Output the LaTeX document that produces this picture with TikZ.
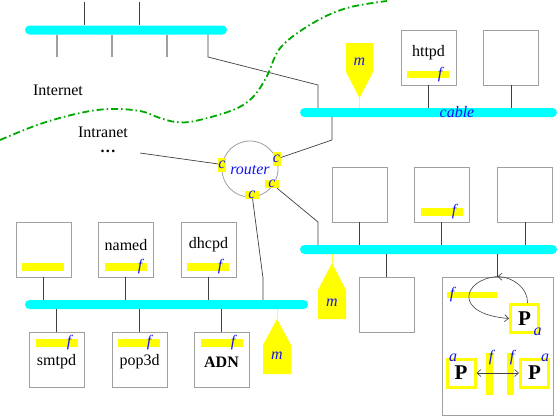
\documentclass[tikz,border=0pt]{standalone}
\usepackage{fontspec}
\setmainfont{Liberation Serif}
\usetikzlibrary{arrows.meta}
\definecolor{cabcol}{HTML}{00FFFF}
\definecolor{ylw}{HTML}{FFFF00}
\definecolor{lblue}{HTML}{1414F0}
\definecolor{grn}{HTML}{00A800}
\definecolor{bgray}{HTML}{A0A0A0}
\tikzset{
  txt/.style={font=\fontsize{16}{19}\selectfont, inner sep=0},
  lbl/.style={txt, text=lblue, font=\fontsize{16}{19}\selectfont\itshape},
  cablebar/.style={fill=cabcol, rounded corners=4.5pt, minimum height=9pt, inner sep=0},
  hostbox/.style={draw=bgray, line width=0.9pt, fill=white, minimum width=55pt, minimum height=55pt, inner sep=0},
  ybar/.style={fill=ylw, minimum width=42pt, minimum height=7.5pt, inner sep=0},
  cport/.style={fill=ylw, inner sep=0, text=lblue, font=\fontsize{16}{19}\selectfont\itshape},
  conn/.style={draw=black!75, line width=0.7pt},
  gtick/.style={draw=bgray, line width=1.2pt},
  pbox/.style={draw=ylw, line width=3pt, fill=white, minimum size=28pt, inner sep=0, font=\fontsize{21}{24}\selectfont\bfseries},
  marr/.style={draw=black!75, line width=0.6pt, -{Straight Barb[length=4pt,width=7pt]}},
  mline/.style={draw=ylw!80!white, line width=0.8pt}
}
\begin{document}
\begin{tikzpicture}[x=1pt,y=-1pt]
\useasboundingbox (0,0) rectangle (560,416);
\fill[white] (0,0) rectangle (560,416);

% ---------- coordinates for free ends ----------
\coordinate (tA1) at (84,2);
\coordinate (tA2) at (139,2);
\coordinate (gA1) at (57,57);
\coordinate (gA2) at (112,57);
\coordinate (gA3) at (167,57);
\coordinate (gw1) at (208,57);
\coordinate (gw2) at (318,85);
\coordinate (k1) at (332,140);
\coordinate (k2) at (318,222);
\coordinate (k3) at (263,278);
\coordinate (dotsE) at (140,153);

% ---------- cables (as nodes) ----------
\node[cablebar, minimum width=202pt] (cA) at (126,30) {};
\node[cablebar, minimum width=257pt] (cB) at (428.5,112.5) {};
\node[cablebar, minimum width=257pt] (cC) at (428.5,249.5) {};
\node[cablebar, minimum width=283pt] (cD) at (166.5,304.5) {};

% ---------- host boxes ----------
\node[hostbox] (hHttp) at (428.5,57.5) {};
\node[hostbox] (hTR) at (511,57.5) {};
\node[hostbox] (hM1) at (359.5,194.5) {};
\node[hostbox] (hM2) at (441.5,194.5) {};
\node[hostbox] (hM3) at (525,194.5) {};
\node[hostbox] (hM4) at (386.5,304.5) {};
\node[hostbox, minimum width=111pt, minimum height=138pt] (big) at (497.5,346) {};
\node[hostbox] (hB1) at (43.5,249.5) {};
\node[hostbox] (hNamed) at (125.5,249.5) {};
\node[hostbox] (hDhcp) at (208.5,249.5) {};
\node[hostbox] (hSmtp) at (56.5,359.5) {};
\node[hostbox] (hPop) at (139.5,359.5) {};
\node[hostbox] (hAdn) at (221.5,359.5) {};

% ---------- connectors ----------
\draw[conn] (tA1) -- (tA1 |- cA.north);
\draw[conn] (tA2) -- (tA2 |- cA.north);
\draw[gtick] (gA1) -- (gA1 |- cA.south);
\draw[gtick] (gA2) -- (gA2 |- cA.south);
\draw[gtick] (gA3) -- (gA3 |- cA.south);
\draw[conn] (gw1 |- cA.south) -- (gw1) -- (gw2) -- (gw2 |- cB.north);

\draw[conn] (hHttp.south) -- (hHttp.south |- cB.north);
\draw[conn] (hTR.south) -- (hTR.south |- cB.north);
\draw[conn] (hM1.south) -- (hM1.south |- cC.north);
\draw[conn] (hM2.south) -- (hM2.south |- cC.north);
\draw[conn] (hM3.south) -- (hM3.south |- cC.north);
\draw[conn] (hM4.north) -- (hM4.north |- cC.south);
\draw[conn] (big.north) -- (big.north |- cC.south);
\draw[conn] (hB1.south) -- (hB1.south |- cD.north);
\draw[conn] (hNamed.south) -- (hNamed.south |- cD.north);
\draw[conn] (hDhcp.south) -- (hDhcp.south |- cD.north);
\draw[conn] (hSmtp.north) -- (hSmtp.north |- cD.south);
\draw[conn] (hPop.north) -- (hPop.north |- cD.south);
\draw[conn] (hAdn.north) -- (hAdn.north |- cD.south);

\node[lbl] (cabLbl) at (457,112) {cable};

% ---------- box contents ----------
\node[txt] (tHttp) at (428.5,53) {httpd};
\node[ybar] (bHttp) at (428,74.5) {};
\node[lbl] (fHttp) at ([xshift=-9pt]bHttp.east) {f};

\node[ybar] (bM2) at (442,212) {};
\node[lbl] (fM2) at ([xshift=-9pt]bM2.east) {f};

\node[ybar] (bB1) at (43,267) {};
\node[txt] (tNamed) at (126,245) {named};
\node[ybar] (bNamed) at (126,267) {};
\node[lbl] (fNamed) at ([xshift=-7pt]bNamed.east) {f};
\node[txt] (tDhcp) at (208.5,245) {dhcpd};
\node[ybar] (bDhcp) at (208,267) {};
\node[lbl] (fDhcp) at ([xshift=-9pt]bDhcp.east) {f};

\node[ybar] (bSmtp) at (57,343) {};
\node[lbl] (fSmtp) at ([xshift=-9pt]bSmtp.east) {f};
\node[txt] (tSmtp) at (56.5,362) {smtpd};
\node[ybar] (bPop) at (139,343) {};
\node[lbl] (fPop) at ([xshift=-11pt]bPop.east) {f};
\node[txt] (tPop) at (139.5,362) {pop3d};
\node[ybar] (bAdn) at (222,343) {};
\node[lbl] (fAdn) at ([xshift=-10pt]bAdn.east) {f};
\node[txt, font=\fontsize{16}{19}\selectfont\bfseries] (tAdn) at (221.5,362) {ADN};

% ---------- texts ----------
\node[txt] (tInternet) at (58,90) {Internet};
\node[txt] (tIntranet) at (103,132) {Intranet};
\node[txt] (tDots) at (108,151) {\textbf{.\kern1.5pt.\kern1.5pt.}};

% ---------- dash-dot boundary ----------
\draw[grn, line width=1.8pt, dash pattern=on 7pt off 3pt on 1.5pt off 3pt]
  plot[smooth, tension=0.6] coordinates {(0,140) (40,124) (80,113) (110,109) (140,111) (160,118) (176,122) (195,121) (233,110) (253,97) (267,76) (281,47) (313,23) (347,8) (387,1)};

% ---------- router ----------
\node[draw=bgray, circle, line width=0.8pt, minimum size=56pt, inner sep=0] (rt) at (250,169) {};
\node[lbl] (rtLbl) at (250,170) {router};
\node[cport, minimum width=8pt, minimum height=14pt] (cL) at (222,164.5) {c};
\node[cport, minimum width=8pt, minimum height=14pt] (cUR) at (276.5,159) {c};
\node[cport, minimum width=14pt, minimum height=8pt] (cLR) at (272,184) {c};
\node[cport, minimum width=14pt, minimum height=8pt] (cBt) at (252,194.5) {c};

\draw[conn] (dotsE) -- (cL);
\draw[conn] (cUR) -- (k1) -- (k1 |- cB.south);
\draw[conn] (cLR) -- (k2) -- (k2 |- cC.north);
\draw[conn] (cBt) -- (k3) -- (k3 |- cD.north);

% ---------- m markers ----------
\fill[ylw] (346,43) -- (373,43) -- (373,72) -- (359.5,98) -- (346,72) -- cycle;
\draw[mline] (359.5,98) -- (359.5,108);
\node[lbl] (mTop) at (359.5,62) {m};

\fill[ylw] (332,263) -- (346,290) -- (346,319) -- (318,319) -- (318,290) -- cycle;
\draw[mline] (332,254) -- (332,263);
\node[lbl] (mMid) at (332,303) {m};

\fill[ylw] (277,319) -- (291,345) -- (291,374) -- (263,374) -- (263,345) -- cycle;
\draw[mline] (277,309) -- (277,319);
\node[lbl] (mBot) at (277,356) {m};

% ---------- big box contents ----------
\node[fill=ylw, minimum width=50pt, minimum height=6pt, inner sep=0] (bBig) at (472,295) {};
\node[lbl] (fBig) at (452,295) {f};
\node[pbox] (p1) at (524.5,318.5) {P};
\node[lbl] (a1) at (537.5,332) {a};
\draw[marr] ([xshift=3pt]p1.north) .. controls (528,288) and (513,277) .. (big.north);
\draw[marr] (big.north) .. controls (463,279) and (452,314) .. (p1.west);

\node[fill=ylw, minimum width=7pt, minimum height=42pt, inner sep=0] (vb1) at (489.5,374) {};
\node[fill=ylw, minimum width=7pt, minimum height=42pt, inner sep=0] (vb2) at (510.5,374) {};
\node[lbl] (fv1) at (491,358) {f};
\node[lbl] (fv2) at (512,358) {f};
\node[pbox] (pl) at (461,373) {P};
\node[pbox] (pr) at (534.5,373) {P};
\node[lbl] (al) at (453,358) {a};
\node[lbl] (ar) at (545,358) {a};
\draw[marr, {Straight Barb[length=4pt,width=7pt]}-{Straight Barb[length=4pt,width=7pt]}] (pl.east) -- (pr.west);
\end{tikzpicture}
\end{document}
